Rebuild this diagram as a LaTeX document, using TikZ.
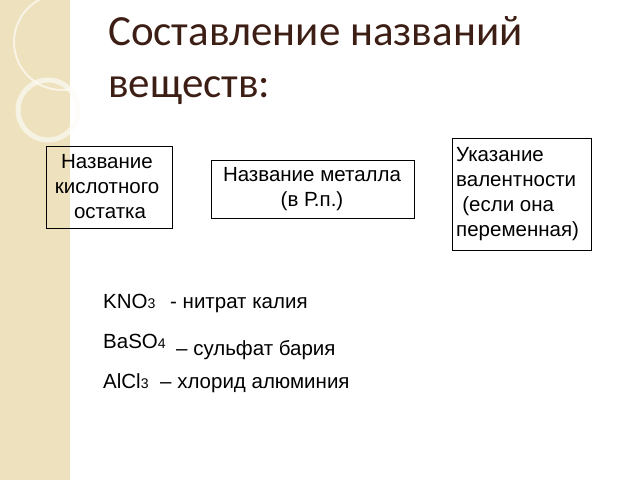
\documentclass[tikz,border=0pt]{standalone}
\usepackage{fontspec}
\setmainfont{Liberation Sans}
\newfontfamily\titlefont{Carlito}
\definecolor{strip}{RGB}{238,226,190}
\definecolor{titlebrown}{RGB}{60,30,20}
\tikzset{
  boxtext/.style={inner sep=0pt, font=\fontsize{20.5}{25}\selectfont},
  formula/.style={anchor=base west, font=\fontsize{20.5}{24}\selectfont, inner sep=0pt}
}
\newcommand{\idx}[1]{{\fontsize{14}{15}\selectfont #1}}
\begin{document}
\begin{tikzpicture}[x=1pt,y=-1pt]
\useasboundingbox (0,0) rectangle (640,480);
% decoration strip
\fill[strip] (0,0) rectangle (70,480);
\draw[white, line width=2pt, opacity=0.6] (62,42) circle (48);
\draw[white!85!strip, line width=5pt, opacity=0.7] (48,110) circle (30);
% title
\node[anchor=base west, inner sep=0pt, text=titlebrown, font=\titlefont\fontsize{43}{52}\selectfont, align=left] (title) at (108,97) {Составление названий\\веществ:};
% boxes
\draw[thin] (46,146) rectangle (172,228);
\node[boxtext, align=center] (acid) at (107,187) {Название\\кислотного\\\hspace*{0.3em}остатка};
\draw[thin] (211,160) rectangle (414,218);
\node[boxtext, align=center] (metal) at (312,189) {Название металла\\(в Р.п.)};
\draw[thin] (452,138) rectangle (591,250);
\node[boxtext, align=left, anchor=west] (val) at (456,194) {Указание\\валентности\\\hspace*{0.3em}(если она\\переменная)};
% formulas
\node[formula] (kno) at (103,308) {KNO\idx{3}};
\node[formula] (knot) at (170,308) {- нитрат калия};
\node[formula] (baso) at (103,348) {BaSO\idx{4}};
\node[formula] (basot) at (176,355) {– сульфат бария};
\node[formula] (alcl) at (103,388) {AlCl\idx{3}};
\node[formula] (alclt) at (160,388) {– хлорид алюминия};
\end{tikzpicture}
\end{document}
